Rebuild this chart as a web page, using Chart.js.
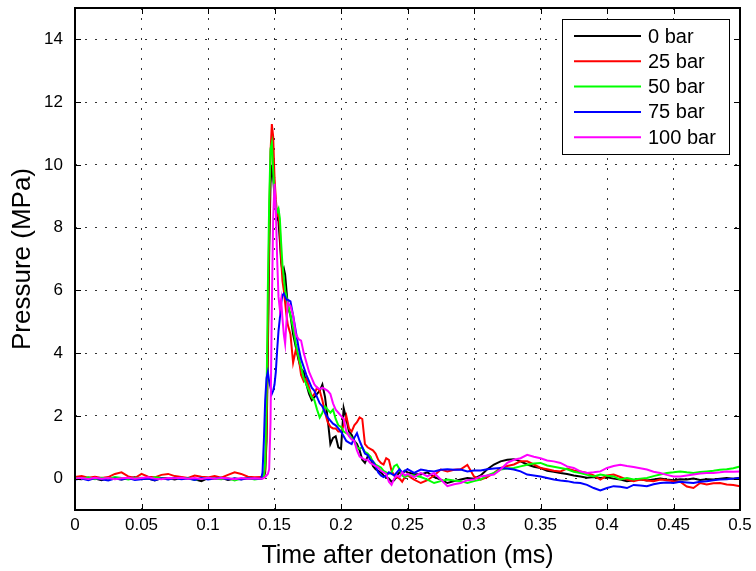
<!DOCTYPE html>
<html>
<head>
<meta charset="utf-8">
<script src="https://cdn.jsdelivr.net/npm/chart.js@4"></script>
<style>
  html, body { margin: 0; padding: 0; background: #fff; }
</style>
</head>
<body>
<canvas id="pressureChart" width="756" height="571"></canvas>
<script>
// Sample times (ms): coarse baseline, fine around the shock front, then coarse tail
const timeMs = [
    0, 0.005, 0.01, 0.015, 0.02, 0.025, 0.03, 0.035, 0.04, 0.045, 0.05, 0.055, 0.06, 0.065,
    0.07, 0.075, 0.08, 0.085, 0.09, 0.095, 0.1, 0.105, 0.11, 0.115, 0.12, 0.125, 0.13, 0.135,
    0.140, 0.141, 0.142, 0.143, 0.144, 0.145, 0.146, 0.147, 0.148, 0.149, 0.150,
    0.151, 0.152, 0.153, 0.154, 0.155, 0.156, 0.157, 0.158, 0.159, 0.160,
    0.162, 0.164, 0.166, 0.168, 0.170, 0.172, 0.174, 0.176, 0.178, 0.180, 0.182, 0.184, 0.186,
    0.188, 0.190, 0.192, 0.194, 0.196, 0.198, 0.200, 0.202, 0.204, 0.206, 0.208, 0.210, 0.212,
    0.214, 0.216, 0.218, 0.220, 0.222, 0.224, 0.226, 0.228, 0.230, 0.232, 0.234, 0.236, 0.238,
    0.240, 0.242, 0.244, 0.246, 0.248, 0.250,
    0.255, 0.26, 0.265, 0.27, 0.275, 0.28, 0.285, 0.29, 0.295, 0.30, 0.305, 0.31, 0.315, 0.32,
    0.325, 0.33, 0.335, 0.34, 0.345, 0.35, 0.355, 0.36, 0.365, 0.37, 0.375, 0.38, 0.385, 0.39,
    0.395, 0.40, 0.405, 0.41, 0.415, 0.42, 0.425, 0.43, 0.435, 0.44, 0.445, 0.45, 0.455, 0.46,
    0.465, 0.47, 0.475, 0.48, 0.485, 0.49, 0.495, 0.50
];

// Pressure (MPa) for each initial pressure
const p0bar = [
    0.0, -0.02, 0.03, 0.0, -0.05, 0.02, 0.0, -0.03, 0.01, 0.04, -0.02, 0.0, -0.06, 0.02,
    0.01, -0.03, 0.03, 0.0, -0.02, -0.08, 0.02, 0.0, 0.03, -0.04, 0.0, -0.02, 0.01, 0.0,
    0.0, 0.02, 0.05, 0.2, 1.2, 4.0, 7.2, 9.4, 10.0, 9.6, 9.0,
    8.6, 8.3, 8.2, 7.6, 6.9, 6.6, 6.7, 6.5, 6.0, 5.5,
    5.2, 4.6, 4.2, 3.8, 3.5, 3.4, 3.0, 2.7, 2.5, 2.6, 2.7, 2.8, 3.0,
    2.6, 1.9, 1.1, 1.3, 1.35, 1.0, 0.95, 2.25, 1.9, 1.5, 1.4, 1.2, 1.1,
    0.9, 0.6, 0.5, 0.7, 0.7, 0.4, 0.3, 0.25, 0.2, 0.1, 0.05, 0.0, -0.1,
    -0.05, 0.1, 0.2, 0.15, 0.25, 0.2,
    0.15, 0.13, 0.2, 0.05, -0.03, -0.14, -0.08, -0.03, 0.02, 0.0, 0.1, 0.3, 0.45, 0.55,
    0.6, 0.62, 0.55, 0.45, 0.38, 0.34, 0.25, 0.22, 0.18, 0.15, 0.1, 0.07, 0.03, 0.05,
    0.02, 0.04, 0.0, -0.03, -0.08, -0.05, -0.02, -0.06, -0.03, 0.0, -0.03, -0.05, -0.02, -0.03,
    0.0, -0.04, -0.02, -0.03, 0.0, 0.02, 0.0, 0.03
];
const p25bar = [
    0.05, 0.08, 0.03, 0.06, 0.02, 0.05, 0.15, 0.2, 0.07, 0.02, 0.15, 0.06, 0.04, 0.12,
    0.15, 0.08, 0.05, 0.02, 0.1, 0.06, 0.04, 0.08, 0.03, 0.12, 0.2, 0.15, 0.06, 0.04,
    0.05, 0.05, 0.08, 0.3, 1.5, 4.5, 8.0, 10.4, 11.3, 10.9, 9.6,
    8.9, 8.4, 8.5, 8.0, 7.0, 6.3, 6.0, 5.6, 5.2, 4.9,
    4.6, 3.7, 4.1, 3.9, 3.3, 3.1, 3.2, 2.9, 2.6, 2.7, 2.9, 2.8, 2.5,
    2.1, 1.8, 1.65, 1.6, 1.6, 1.5, 1.5, 1.7, 2.0, 1.6, 1.5, 1.7, 1.8,
    1.95, 1.9, 1.1, 1.0, 0.95, 0.9, 0.8, 0.6, 0.5, 0.45, 0.65, 0.6, 0.25,
    0.1, 0.05, 0.0, -0.1, 0.05, 0.1,
    -0.03, -0.14, -0.05, 0.1, 0.29, 0.23, 0.28, 0.3, 0.44, 0.07, -0.03, 0.05, 0.18, 0.34,
    0.4, 0.45, 0.55, 0.55, 0.45, 0.34, 0.3, 0.25, 0.23, 0.32, 0.26, 0.23, 0.18, 0.1,
    -0.03, 0.1, 0.13, 0.05, -0.03, -0.08, -0.03, -0.06, -0.08, -0.03, -0.05, -0.08, -0.1, -0.25,
    -0.3, -0.14, -0.19, -0.15, -0.14, -0.19, -0.2, -0.24
];
const p50bar = [
    0.02, 0.0, 0.04, -0.02, 0.03, 0.0, 0.05, 0.02, -0.03, 0.01, 0.03, 0.0, 0.04, 0.02,
    -0.02, 0.03, 0.0, 0.02, -0.04, 0.01, 0.03, 0.0, -0.02, 0.02, -0.06, 0.0, 0.02, -0.03,
    0.0, 0.02, 0.1, 0.5, 2.5, 6.0, 8.8, 10.5, 10.7, 9.8, 9.1,
    8.7, 8.5, 8.6, 8.3, 7.5, 6.8, 6.4, 6.0, 5.8, 5.6,
    5.2, 4.8, 4.3, 3.9, 3.55, 3.2, 3.0, 2.8, 2.6, 2.5, 2.2, 1.95, 2.1,
    2.3, 2.2, 2.1, 2.2, 1.9, 1.7, 1.65, 1.5, 1.45, 1.4, 1.3, 1.2, 1.0,
    0.95, 1.0, 0.85, 0.8, 0.7, 0.55, 0.45, 0.4, 0.35, 0.25, 0.2, 0.15, 0.2,
    0.4, 0.45, 0.3, 0.1, 0.05, 0.1,
    0.1, 0.05, -0.03, -0.14, -0.08, -0.03, -0.06, -0.08, -0.14, -0.08, -0.03, 0.1, 0.18, 0.29,
    0.32, 0.34, 0.39, 0.44, 0.48, 0.5, 0.42, 0.38, 0.34, 0.3, 0.22, 0.18, 0.12, 0.07,
    0.13, 0.09, 0.07, -0.03, 0.02, -0.03, 0.0, 0.02, 0.08, 0.13, 0.18, 0.2, 0.23, 0.2,
    0.18, 0.21, 0.23, 0.25, 0.28, 0.3, 0.33, 0.39
];
const p75bar = [
    -0.03, 0.0, -0.05, 0.02, -0.02, -0.06, 0.0, -0.03, 0.02, -0.04, -0.02, 0.0, -0.05, 0.01,
    -0.03, 0.02, -0.02, 0.0, -0.04, 0.02, -0.03, 0.0, 0.03, -0.02, 0.0, -0.03, 0.01, 0.0,
    0.0, 0.2, 1.2, 2.5, 3.2, 3.4, 3.1, 2.9, 2.7, 2.8, 3.0,
    3.4, 4.1, 4.7, 5.1, 5.6, 5.85, 5.9, 5.8, 5.7, 5.7,
    5.65, 5.2, 4.7, 4.2, 3.8, 3.55, 3.3, 3.1, 2.9, 2.8, 2.6, 2.4, 2.3,
    2.1, 1.95, 1.85, 1.75, 1.7, 1.6, 1.5, 1.35, 1.2, 1.15, 1.1, 1.3, 1.45,
    1.2, 1.0, 0.8, 0.75, 0.6, 0.55, 0.4, 0.2, 0.1, 0.05, 0.1, 0.2, 0.15,
    0.1, 0.2, 0.3, 0.2, 0.25, 0.3,
    0.18, 0.29, 0.25, 0.23, 0.28, 0.3, 0.28, 0.29, 0.23, 0.26, 0.26, 0.3, 0.32, 0.34,
    0.32, 0.29, 0.23, 0.13, 0.1, 0.07, 0.02, -0.03, -0.06, -0.08, -0.12, -0.14, -0.2, -0.3,
    -0.38, -0.3, -0.24, -0.26, -0.3, -0.2, -0.22, -0.24, -0.18, -0.14, -0.12, -0.14, -0.1, -0.12,
    -0.14, -0.1, -0.08, -0.05, -0.03, -0.02, 0.0, 0.02
];
const p100bar = [
    0.0, 0.02, -0.01, 0.03, 0.0, 0.02, -0.02, 0.01, 0.03, 0.0, 0.02, 0.04, 0.0, -0.02,
    0.02, 0.01, 0.03, 0.0, 0.02, -0.01, 0.03, 0.0, 0.02, 0.01, -0.02, 0.02, 0.0, 0.01,
    0.0, 0.0, 0.02, 0.05, 0.1, 0.15, 0.3, 1.8, 5.5, 8.3, 9.4,
    8.6, 7.0, 5.8, 5.4, 5.7, 5.1, 4.6, 4.3, 5.0, 5.6,
    5.5, 5.2, 4.6, 4.45, 4.4, 4.0, 3.7, 3.4, 3.2, 3.0, 2.9, 2.85, 2.9,
    2.85, 2.8, 2.7, 2.4, 2.2, 2.1, 2.0, 1.9, 1.5, 1.35, 1.25, 1.2, 0.9,
    0.7, 0.65, 0.6, 0.6, 0.5, 0.45, 0.4, 0.35, 0.25, 0.2, 0.15, -0.1, -0.2,
    0.0, 0.1, 0.05, 0.2, 0.1, 0.15,
    0.05, 0.18, 0.07, 0.18, -0.03, -0.24, -0.18, -0.14, -0.05, -0.03, 0.07, 0.1, 0.13, 0.29,
    0.5, 0.6, 0.65, 0.76, 0.7, 0.65, 0.58, 0.55, 0.5, 0.39, 0.34, 0.23, 0.18, 0.2,
    0.23, 0.34, 0.4, 0.44, 0.4, 0.37, 0.33, 0.29, 0.22, 0.18, 0.12, 0.07, 0.07, 0.1,
    0.13, 0.16, 0.18, 0.18, 0.2, 0.23, 0.22, 0.23
];

const seriesLabels = ['0 bar', '25 bar', '50 bar', '75 bar', '100 bar'];
const seriesValues = [p0bar, p25bar, p50bar, p75bar, p100bar];
const seriesColors = ['#000000', '#ff0000', '#00ff00', '#0000ff', '#ff00ff'];

const xTicks = [0, 0.05, 0.1, 0.15, 0.2, 0.25, 0.3, 0.35, 0.4, 0.45, 0.5];
const xTickLabels = ['0', '0.05', '0.1', '0.15', '0.2', '0.25', '0.3', '0.35', '0.4', '0.45', '0.5'];
const yTicks = [0, 2, 4, 6, 8, 10, 12, 14];
const yTickLabels = ['0', '2', '4', '6', '8', '10', '12', '14'];

const FONT = '"Liberation Sans", Arial, Helvetica, sans-serif';

const datasets = seriesValues.map((vals, i) => ({
    label: seriesLabels[i],
    data: timeMs.map((t, j) => ({ x: t, y: vals[j] })),
    borderColor: seriesColors[i],
    backgroundColor: seriesColors[i],
    borderWidth: 2,
    pointRadius: 0,
    tension: 0,
    fill: false,
    order: seriesValues.length - i // later series on top
}));

// Box around the plot with inward tick marks on all four sides
const framePlugin = {
    id: 'frame',
    afterDraw(chart) {
        const { ctx, chartArea: a, scales: { x, y } } = chart;
        ctx.save();
        ctx.strokeStyle = '#000';
        ctx.lineWidth = 1;
        ctx.beginPath();
        xTicks.forEach(v => {
            const px = Math.round(x.getPixelForValue(v)) + 0.5;
            ctx.moveTo(px, a.bottom); ctx.lineTo(px, a.bottom - 6);
            ctx.moveTo(px, a.top); ctx.lineTo(px, a.top + 6);
        });
        yTicks.forEach(v => {
            const py = Math.round(y.getPixelForValue(v)) + 0.5;
            ctx.moveTo(a.left, py); ctx.lineTo(a.left + 6, py);
            ctx.moveTo(a.right, py); ctx.lineTo(a.right - 6, py);
        });
        ctx.stroke();
        ctx.lineWidth = 2;
        ctx.strokeRect(a.left, a.top, a.right - a.left, a.bottom - a.top);
        ctx.restore();
    }
};

// Legend box in the upper right corner of the plot
const legendPlugin = {
    id: 'boxLegend',
    afterDraw(chart) {
        const { ctx, chartArea: a } = chart;
        const w = 167, h = 135, rowH = 25.3;
        const left = a.right - 11 - w, top = a.top + 11;
        ctx.save();
        ctx.fillStyle = '#fff';
        ctx.fillRect(left, top, w, h);
        ctx.strokeStyle = '#000';
        ctx.lineWidth = 1;
        ctx.strokeRect(left + 0.5, top + 0.5, w, h);
        ctx.font = '20px ' + FONT;
        ctx.textBaseline = 'middle';
        chart.data.datasets.forEach((ds, i) => {
            const cy = top + 17 + i * rowH;
            ctx.strokeStyle = ds.borderColor;
            ctx.lineWidth = 2;
            ctx.beginPath();
            ctx.moveTo(left + 12, cy);
            ctx.lineTo(left + 79, cy);
            ctx.stroke();
            ctx.fillStyle = '#000';
            ctx.fillText(ds.label, left + 86, cy + 1);
        });
        ctx.restore();
    }
};

const gridStyle = { color: 'rgba(0,0,0,0.8)', lineWidth: 1, drawTicks: false };
const borderStyle = { display: false, dash: [2, 8] };

new Chart(document.getElementById('pressureChart'), {
    type: 'line',
    data: { datasets },
    options: {
        responsive: false,
        animation: false,
        layout: { padding: { left: 0, right: 16, top: 8, bottom: 0 } },
        plugins: { legend: { display: false }, tooltip: { enabled: false } },
        scales: {
            x: {
                type: 'linear',
                min: 0,
                max: 0.5,
                afterBuildTicks: s => { s.ticks = xTicks.map(v => ({ value: v })); },
                afterFit: s => {
                    s.height = 61;
                    s.paddingLeft = 0;
                    s.paddingRight = 0;
                },
                ticks: {
                    color: '#000',
                    font: { family: FONT, size: 17 },
                    padding: 5,
                    maxRotation: 0,
                    autoSkip: false,
                    callback: v => xTickLabels[xTicks.indexOf(v)]
                },
                grid: gridStyle,
                border: borderStyle,
                title: {
                    display: true,
                    text: 'Time after detonation (ms)',
                    color: '#000',
                    font: { family: FONT, size: 25 },
                    padding: { top: 3, bottom: 0 }
                }
            },
            y: {
                min: -1,
                max: 15,
                afterBuildTicks: s => { s.ticks = yTicks.map(v => ({ value: v })); },
                afterFit: s => {
                    s.width = 75;
                    s.paddingTop = 0;
                    s.paddingBottom = 0;
                },
                ticks: {
                    color: '#000',
                    font: { family: FONT, size: 17 },
                    padding: 12,
                    callback: v => yTickLabels[yTicks.indexOf(v)]
                },
                grid: gridStyle,
                border: borderStyle,
                title: {
                    display: true,
                    text: 'Pressure (MPa)',
                    color: '#000',
                    font: { family: FONT, size: 26 },
                    padding: { top: 7, bottom: 0 }
                }
            }
        }
    },
    plugins: [framePlugin, legendPlugin]
});
</script>
</body>
</html>
